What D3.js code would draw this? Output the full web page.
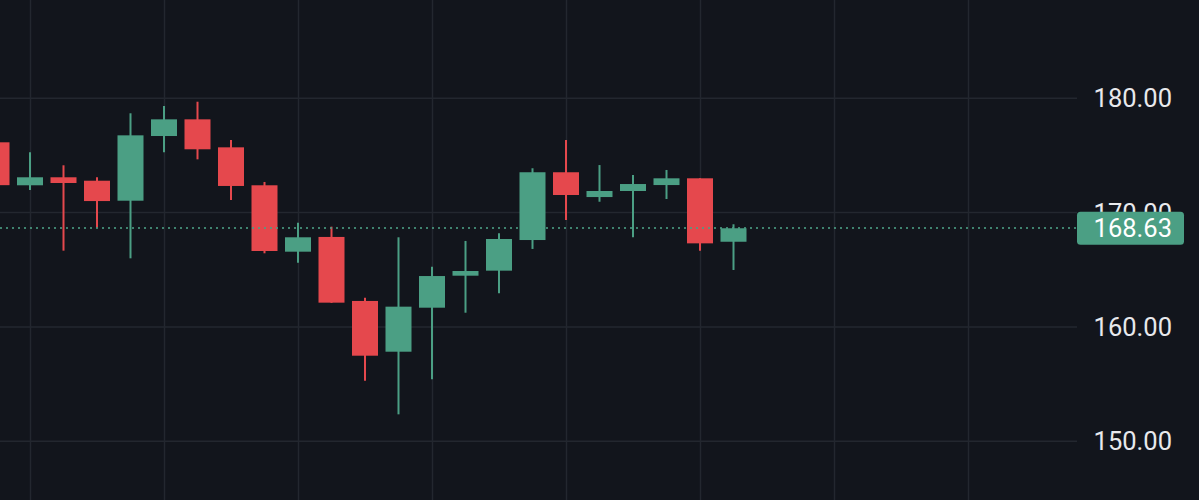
<!DOCTYPE html>
<html>
<head>
<meta charset="utf-8">
<script src="https://cdn.jsdelivr.net/npm/d3@7"></script>
<style>
  html, body { margin: 0; padding: 0; background: #12151c; }
  svg { display: block; }
</style>
</head>
<body>
<div id="chart"></div>
<script>
// Datos (velas, de izquierda a derecha)
const opens  = [176.15, 172.39, 173.09, 172.79, 171.04, 176.70, 178.16, 175.71, 172.39, 166.58, 167.87, 162.27, 157.83, 161.68, 164.48, 164.92, 167.60, 173.53, 171.36, 171.89, 172.41, 173.00, 167.45];
const highs  = [176.60, 175.28, 174.14, 173.09, 178.69, 179.33, 179.70, 176.35, 172.68, 169.12, 168.77, 162.55, 167.84, 165.27, 167.52, 168.19, 173.88, 176.35, 174.16, 173.29, 173.73, 173.00, 168.98];
const lows   = [171.80, 171.98, 166.67, 168.68, 166.00, 175.28, 174.66, 171.10, 166.44, 165.62, 162.10, 155.29, 152.35, 155.42, 161.24, 162.94, 166.82, 169.35, 170.95, 167.84, 171.19, 166.67, 164.98];
const closes = [172.40, 173.09, 172.59, 171.01, 176.76, 178.16, 175.54, 172.33, 166.64, 167.84, 162.12, 157.48, 161.77, 164.45, 164.89, 167.69, 173.53, 171.54, 171.89, 172.50, 173.00, 167.31, 168.63];

const yTicks = [150, 160, 170, 180];
const lastPrice = 168.63;

// Constantes
const WIDTH = 1199;
const HEIGHT = 500;
const plotRight = 1077;
const bg = "#12151c";
const grid = "#23272f";
const up = "#4b9f84";
const down = "#e5484d";

const candles = opens.map((o, i) => ({
  i: i, open: o, high: highs[i], low: lows[i], close: closes[i]
}));

const svg = d3.select("#chart")
  .append("svg")
  .attr("width", WIDTH)
  .attr("height", HEIGHT);

svg.append("rect")
  .attr("width", WIDTH)
  .attr("height", HEIGHT)
  .attr("fill", bg);

// Escalas
const x = d3.scaleLinear()
  .domain([0, 33])
  .range([-3.5, 1102]);

const y = d3.scaleLinear()
  .domain([150, 180])
  .range([441.2, 98.3]);

const bodyW = 26;

// Grilla vertical (cada 4 velas)
const vTicks = d3.range(1, 30, 4);
svg.append("g")
  .selectAll("line")
  .data(vTicks)
  .join("line")
  .attr("x1", d => Math.round(x(d)) + 0.5)
  .attr("x2", d => Math.round(x(d)) + 0.5)
  .attr("y1", 0)
  .attr("y2", HEIGHT)
  .attr("stroke", grid)
  .attr("stroke-width", 1.5);

// Grilla horizontal
svg.append("g")
  .selectAll("line")
  .data(yTicks)
  .join("line")
  .attr("x1", 0)
  .attr("x2", plotRight)
  .attr("y1", d => y(d))
  .attr("y2", d => y(d))
  .attr("stroke", grid)
  .attr("stroke-width", 1.5);

// Velas
const candleG = svg.append("g");

candleG.selectAll("line")
  .data(candles)
  .join("line")
  .attr("x1", d => x(d.i))
  .attr("x2", d => x(d.i))
  .attr("y1", d => y(d.high))
  .attr("y2", d => y(d.low))
  .attr("stroke", d => d.close >= d.open ? up : down)
  .attr("stroke-width", 2);

candleG.selectAll("rect")
  .data(candles)
  .join("rect")
  .attr("x", d => x(d.i) - bodyW / 2)
  .attr("width", bodyW)
  .attr("y", d => y(Math.max(d.open, d.close)))
  .attr("height", d => Math.max(1, Math.abs(y(d.open) - y(d.close))))
  .attr("fill", d => d.close >= d.open ? up : down);

// Linea de precio
svg.append("line")
  .attr("x1", 0)
  .attr("x2", plotRight)
  .attr("y1", Math.round(y(lastPrice)))
  .attr("y2", Math.round(y(lastPrice)))
  .attr("stroke", up)
  .attr("stroke-width", 2)
  .attr("stroke-dasharray", "2,4")
  .attr("opacity", 0.8);

// Eje derecho
svg.append("g")
  .selectAll("text")
  .data(yTicks)
  .join("text")
  .attr("x", 1172)
  .attr("y", d => y(d))
  .attr("dy", "0.36em")
  .attr("text-anchor", "end")
  .attr("fill", "#e8e9ec")
  .style("font-family", "Roboto, sans-serif")
  .style("font-size", "25.5px")
  .text(d => d3.format(".2f")(d));

// Etiqueta del ultimo precio
const label = svg.append("g");
label.append("rect")
  .attr("x", 1077)
  .attr("y", y(lastPrice) - 16.5)
  .attr("width", 107)
  .attr("height", 33)
  .attr("rx", 3.5)
  .attr("fill", up);

label.append("text")
  .attr("x", 1172)
  .attr("y", y(lastPrice))
  .attr("dy", "0.36em")
  .attr("text-anchor", "end")
  .attr("fill", "#ffffff")
  .style("font-family", "Roboto, sans-serif")
  .style("font-size", "25.5px")
  .text(d3.format(".2f")(lastPrice));
</script>
</body>
</html>
